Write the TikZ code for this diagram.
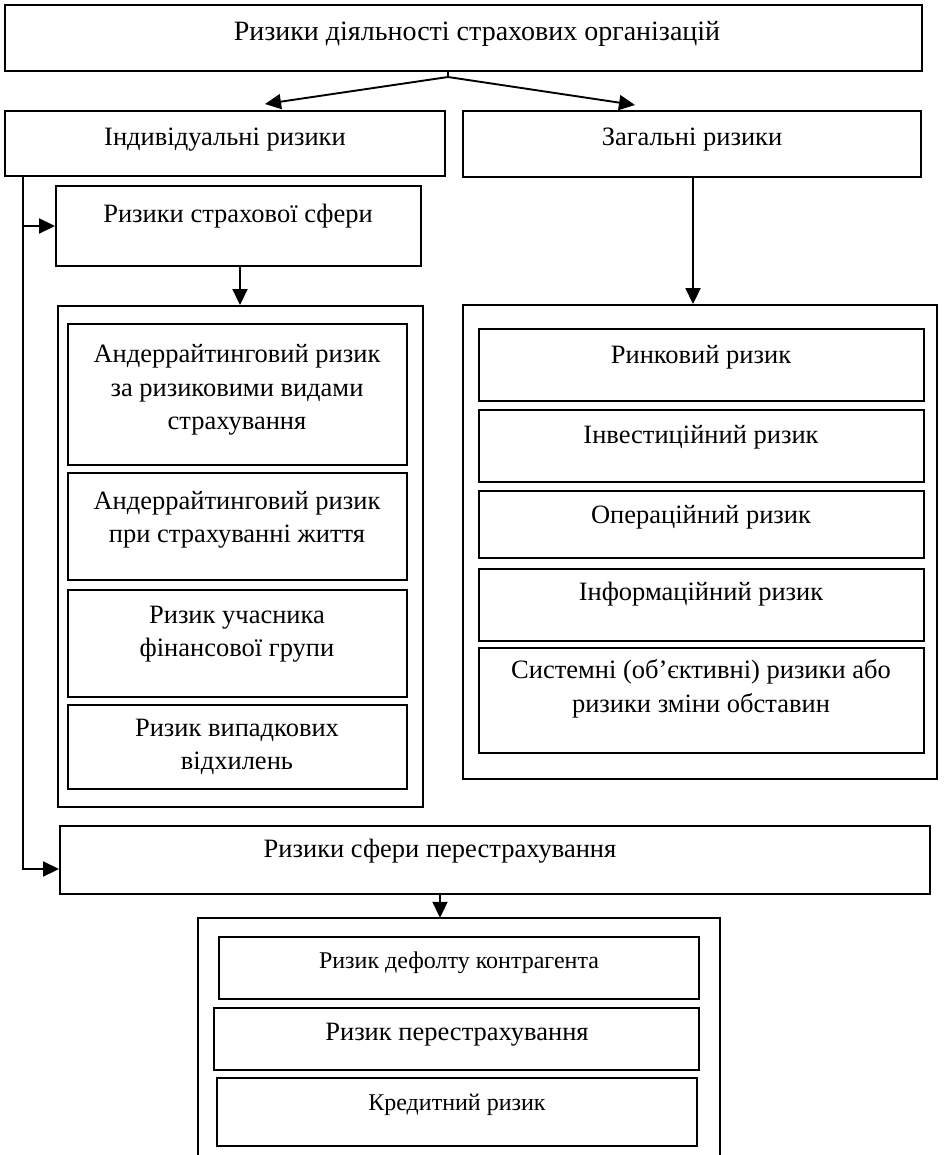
\documentclass[tikz,border=0pt]{standalone}
\usepackage{fontspec}
\setmainfont{Liberation Serif}
\usetikzlibrary{arrows.meta,fit}
\tikzset{
  boxst/.style={draw, line width=1.9pt, inner sep=0pt, fit={#1}},
  txt/.style={align=center, inner sep=0pt, font=\fontsize{26.5}{33.5}\selectfont},
  txtl/.style={align=center, inner sep=0pt, font=\fontsize{28}{34}\selectfont},
  txts/.style={align=center, inner sep=0pt, font=\fontsize{24}{30}\selectfont},
  arr/.style={line width=1.9pt, -{Triangle[length=16pt,width=15pt]}},
  ln/.style={line width=1.9pt}
}
\begin{document}
\begin{tikzpicture}[x=1pt,y=-1pt]
\useasboundingbox (0,0) rectangle (943,1155);
% top level
\node[boxst={(5,5) (922,71)}] (top) {};
\node[txtl] (topT) at (477,34) {Ризики діяльності страхових організацій};
\node[boxst={(5,111) (445,176)}] (ind) {};
\node[txt] (indT) at (225,140) {Індивідуальні ризики};
\node[boxst={(463,111) (921,177)}] (zag) {};
\node[txt] (zagT) at (692,140) {Загальні ризики};
% strakh sphere
\node[boxst={(56,186) (421,266)}] (strakh) {};
\node[txt] (strakhT) at (238,216) {Ризики страхової сфери};
% left container
\node[boxst={(58,306) (423,807)}] (lcont) {};
\node[boxst={(68,324) (407,465)}] (l1) {};
\node[txt] (l1T) at (237,390) {Андеррайтинговий ризик\\за ризиковими видами\\страхування};
\node[boxst={(68,473) (407,580)}] (l2) {};
\node[txt] (l2T) at (237,520) {Андеррайтинговий ризик\\при страхуванні життя};
\node[boxst={(68,590) (407,697)}] (l3) {};
\node[txt] (l3T) at (237,634) {Ризик учасника\\фінансової групи};
\node[boxst={(68,705) (407,789)}] (l4) {};
\node[txt] (l4T) at (237,747) {Ризик випадкових\\відхилень};
% right container
\node[boxst={(463,305) (937,779)}] (rcont) {};
\node[boxst={(479,329) (924,401)}] (r1) {};
\node[txt] (r1T) at (701,357) {Ринковий ризик};
\node[boxst={(479,410) (924,482)}] (r2) {};
\node[txt] (r2T) at (701,437) {Інвестиційний ризик};
\node[boxst={(479,491) (924,558)}] (r3) {};
\node[txt] (r3T) at (701,517) {Операційний ризик};
\node[boxst={(479,569) (924,641)}] (r4) {};
\node[txt] (r4T) at (701,594) {Інформаційний ризик};
\node[boxst={(479,648) (924,753)}] (r5) {};
\node[txt] (r5T) at (701,689) {Системні (об’єктивні) ризики або\\ризики зміни обставин};
% reinsurance
\node[boxst={(60,826) (930,894)}] (pere) {};
\node[txt] (pereT) at (440,851) {Ризики сфери перестрахування};
% bottom container (open at the bottom)
\node[inner sep=0pt, fit={(198,918) (720,1170)}] (bcont) {};
\draw[ln] (bcont.south west) -- (bcont.north west) -- (bcont.north east) -- (bcont.south east);
\node[boxst={(219,937) (699,999)}] (b1) {};
\node[txts] (b1T) at (459,963) {Ризик дефолту контрагента};
\node[boxst={(214,1008) (699,1070)}] (b2) {};
\node[txt] (b2T) at (457,1035) {Ризик перестрахування};
\node[boxst={(217,1078) (697,1146)}] (b3) {};
\node[txts] (b3T) at (457,1105) {Кредитний ризик};
% connectors
\coordinate (apex) at (448,77);
\coordinate (tipL) at (265,104);
\coordinate (tipR) at (635,105);
\draw[ln] (apex) -- (apex |- top.south);
\draw[arr] (apex) -- (tipL);
\draw[arr] (apex) -- (tipR);
\coordinate (xz) at (693,0);
\draw[arr] (zag.south -| xz) -- (rcont.north -| xz);
\coordinate (xl) at (23,0);
\draw[arr] (ind.south -| xl) |- ([yshift=-9pt]pere.west);
\draw[arr] (strakh.west -| xl) -- (strakh.west);
\coordinate (xs) at (240,0);
\draw[arr] (strakh.south -| xs) -- (lcont.north -| xs);
\coordinate (xb) at (440,0);
\draw[arr] (pere.south -| xb) -- (bcont.north -| xb);
\end{tikzpicture}
\end{document}
